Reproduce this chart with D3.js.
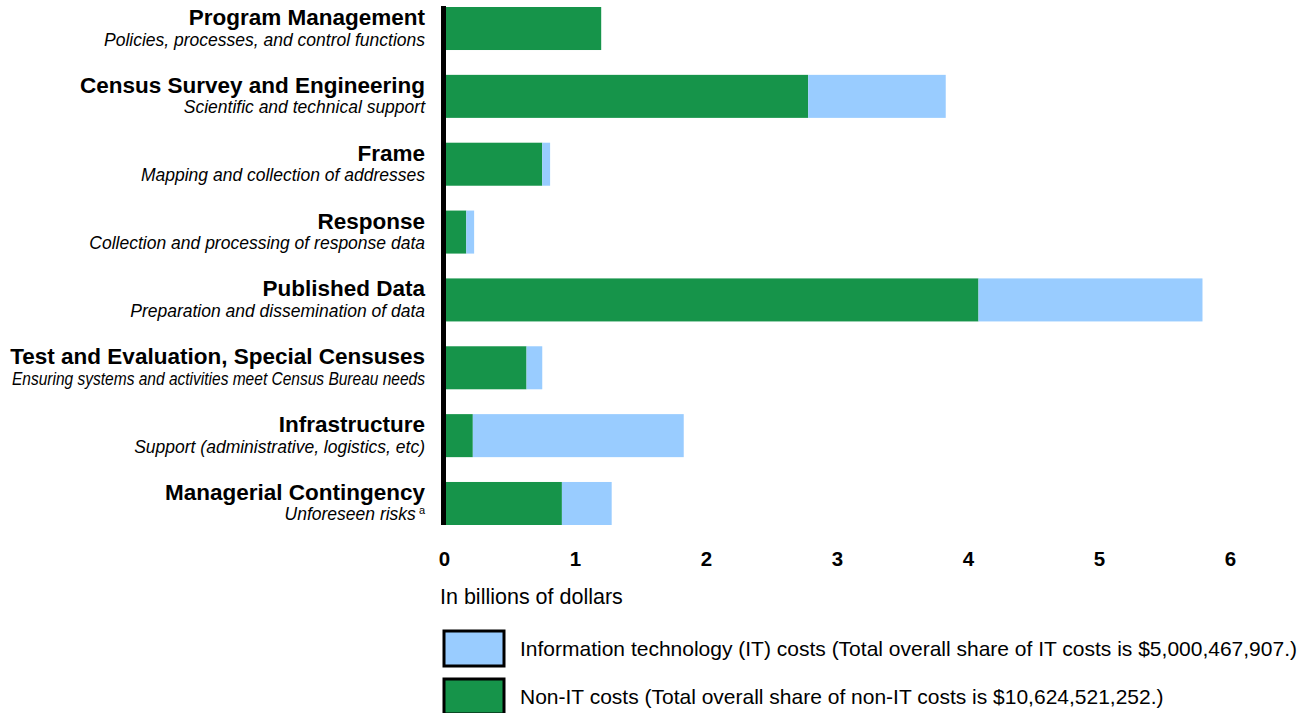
<!DOCTYPE html>
<html>
<head>
<meta charset="utf-8">
<script src="https://cdn.jsdelivr.net/npm/d3@7"></script>
<style>
  body { margin: 0; background: #fff; }
  text { font-family: "Liberation Sans", Arial, sans-serif; fill: #000; }
</style>
</head>
<body>
<div id="chart"></div>
<script>
// category labels, top to bottom
const categories = [
  "Program Management",
  "Census Survey and Engineering",
  "Frame",
  "Response",
  "Published Data",
  "Test and Evaluation, Special Censuses",
  "Infrastructure",
  "Managerial Contingency"
];
const subtitles = [
  "Policies, processes, and control functions",
  "Scientific and technical support",
  "Mapping and collection of addresses",
  "Collection and processing of response data",
  "Preparation and dissemination of data",
  "Ensuring systems and activities meet Census Bureau needs",
  "Support (administrative, logistics, etc)",
  "Unforeseen risks"
];
// billions of dollars
const nonItCosts = [1.20, 2.78, 0.75, 0.17, 4.08, 0.63, 0.22, 0.90];
const itCosts    = [0.00, 1.05, 0.06, 0.06, 1.71, 0.12, 1.61, 0.38];
const xTicks = [0, 1, 2, 3, 4, 5, 6];
const axisTitle = "In billions of dollars";
const legendLabels = [
  "Information technology (IT) costs (Total overall share of IT costs is $5,000,467,907.)",
  "Non-IT costs (Total overall share of non-IT costs is $10,624,521,252.)"
];

const width = 1309, height = 713;
const green = "#16944a", blue = "#99ccff";

const svg = d3.select("#chart").append("svg")
  .attr("width", width)
  .attr("height", height);

const x = d3.scaleLinear().domain([0, 6]).range([444, 1230]);
const y = d3.scaleBand().domain(categories).range([7, 525]).paddingInner(0.366).paddingOuter(0);

const rows = categories.map((c, i) => ({ cat: c, nonIT: nonItCosts[i], it: itCosts[i] }));
const stack = d3.stack().keys(["nonIT", "it"])(rows);
const colors = { nonIT: green, it: blue };

svg.append("g").selectAll("g")
  .data(stack)
  .join("g")
  .attr("fill", d => colors[d.key])
  .selectAll("rect")
  .data(d => d)
  .join("rect")
  .attr("x", d => x(d[0]))
  .attr("y", d => y(d.data.cat))
  .attr("width", d => Math.max(0, x(d[1]) - x(d[0])))
  .attr("height", y.bandwidth());

// vertical axis line
svg.append("line")
  .attr("x1", 443.5).attr("x2", 443.5)
  .attr("y1", 6).attr("y2", 525)
  .attr("stroke", "#000")
  .attr("stroke-width", 5);

// category labels
const labelX = 425;
const lab = svg.append("g").selectAll("g")
  .data(categories)
  .join("g")
  .attr("transform", d => `translate(${labelX},${y(d) + y.bandwidth() / 2})`);

lab.append("text")
  .attr("text-anchor", "end")
  .attr("y", -3.5)
  .style("font-size", "22.5px")
  .style("font-weight", "bold")
  .text(d => d);

lab.append("text")
  .attr("class", "sub")
  .attr("text-anchor", "end")
  .attr("y", 17)
  .style("font-size", "17.5px")
  .style("font-style", "italic")
  .each(function (d, i) {
    const t = d3.select(this);
    t.text(subtitles[i]);
    if (i === categories.length - 1) {
      t.append("tspan")
        .attr("dx", 3)
        .attr("dy", -6)
        .style("font-size", "11px")
        .style("font-style", "normal")
        .text("a");
    }
    const len = this.getComputedTextLength();
    if (len > labelX - 12) {
      t.attr("textLength", labelX - 12).attr("lengthAdjust", "spacingAndGlyphs");
    }
  });

// x axis
const xAxis = svg.append("g")
  .attr("transform", "translate(0,551)")
  .call(d3.axisBottom(x).tickValues(xTicks).tickSize(0).tickPadding(0).tickFormat(d3.format("d")));
xAxis.select(".domain").remove();
xAxis.selectAll("text")
  .style("font-family", "'Liberation Sans Narrow', 'Liberation Sans', Arial, sans-serif")
  .style("font-size", "20.5px")
  .style("font-weight", "bold")
  .attr("fill", "#000");

svg.append("text")
  .attr("x", 440)
  .attr("y", 604)
  .style("font-size", "21.5px")
  .text(axisTitle);

// legend
const legend = svg.append("g").selectAll("g")
  .data(legendLabels)
  .join("g")
  .attr("transform", (d, i) => `translate(444,${631 + i * 48})`);

legend.append("rect")
  .attr("width", 60)
  .attr("height", 35)
  .attr("fill", (d, i) => i === 0 ? blue : green)
  .attr("stroke", "#000")
  .attr("stroke-width", 3);

legend.append("text")
  .attr("x", 76)
  .attr("y", 25)
  .style("font-size", "21px")
  .text(d => d);
</script>
</body>
</html>
